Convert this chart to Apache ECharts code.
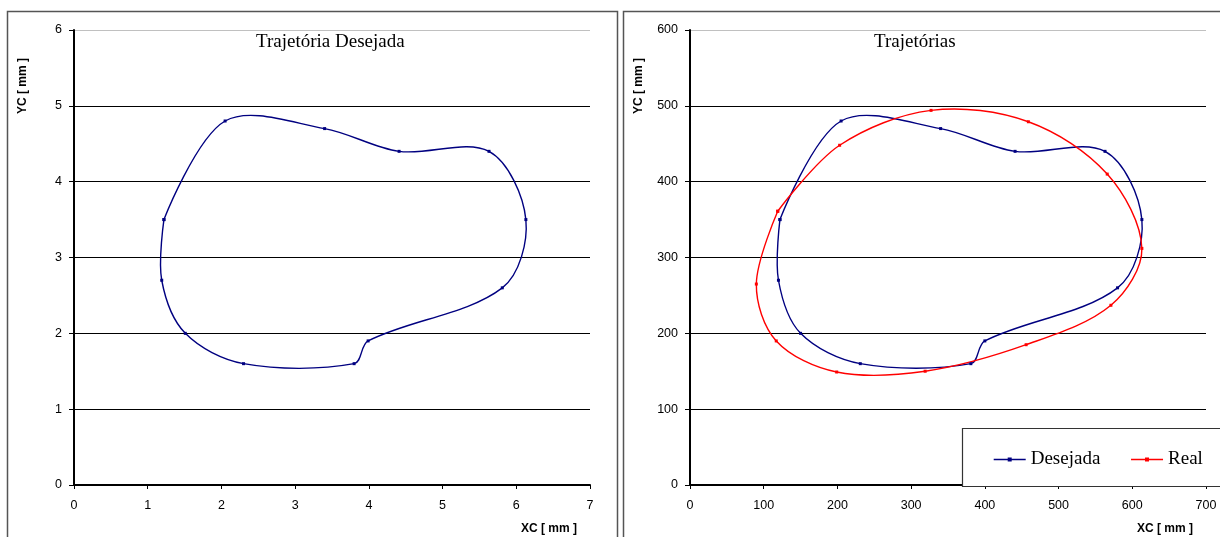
<!DOCTYPE html>
<html>
<head>
<meta charset="utf-8">
<script src="https://cdn.jsdelivr.net/npm/echarts@6/dist/echarts.min.js"></script>
<style>
  html, body { margin: 0; padding: 0; background: #fff; }
  #main { width: 1220px; height: 537px; }
</style>
</head>
<body>
<div id="main"></div>
<script>
// trajetória desejada [mm]
const desX = [1.22, 2.05, 3.40, 4.41, 5.63, 6.13, 5.81, 3.99, 3.80, 2.30, 1.51, 1.19, 1.22];
const desY = [3.5, 4.8, 4.7, 4.4, 4.4, 3.5, 2.6, 1.9, 1.6, 1.6, 2.0, 2.7, 3.5];
// trajetórias (escala x100)
const des2X = [122, 205, 340, 441, 563, 613, 580, 400, 381, 231, 150, 120, 122];
const des2Y = [350, 480, 470, 440, 440, 350, 260, 190, 160, 160, 200, 270, 350];
const realX = [119, 203, 327, 459, 566, 613, 571, 456, 319, 199, 117, 90, 119];
const realY = [361, 448, 494, 479, 410, 312, 237, 185, 150, 149, 190, 265, 361];

const titles = ['Trajetória Desejada', 'Trajetórias'];
const legendNames = ['Desejada', 'Real'];
const xName = 'XC [ mm ]';
const yName = 'YC [ mm ]';

const pairs = (xs, ys) => xs.map((x, i) => [x, ys[i]]);

const sans = 'Liberation Sans, Arial, sans-serif';
const serif = 'Liberation Serif, Times New Roman, serif';
const navy = '#000080';
const red = '#ff0000';
const smooth = 1 / 3;

function xAxis(gridIndex, max, interval) {
  return {
    type: 'value', gridIndex, min: 0, max, interval,
    axisLine: { show: true, onZero: false, lineStyle: { color: '#000', width: 2 } },
    axisTick: { show: true, length: 4, lineStyle: { color: '#000', width: 1 } },
    axisLabel: { color: '#000', fontFamily: sans, fontSize: 12.5, margin: 14 },
    splitLine: { show: false }
  };
}
function yAxis(gridIndex, max, interval) {
  return {
    type: 'value', gridIndex, min: 0, max, interval,
    axisLine: { show: true, onZero: false, lineStyle: { color: '#000', width: 2 } },
    axisTick: { show: true, length: 5, lineStyle: { color: '#000', width: 1 } },
    axisLabel: { color: '#000', fontFamily: sans, fontSize: 12.5, margin: 12 },
    splitLine: {
      show: true, showMinLine: false,
      lineStyle: { color: ['#000', '#000', '#000', '#000', '#000', '#c0c0c0'], width: 1 }
    }
  };
}
// curva suavizada (tipo Excel), um segmento bezier por ponto, sem restrição de overshoot
function curve(name, xs, ys, color, xi) {
  return {
    name, type: 'custom', xAxisIndex: xi, yAxisIndex: xi, z: 2, silent: true,
    data: pairs(xs, ys),
    encode: { x: 0, y: 1 },
    renderItem: (params, api) => {
      const i = params.dataIndex;
      const n = xs.length;
      if (i >= n - 1) return null;
      const p = k => {
        const j = Math.max(0, Math.min(n - 1, k));
        return api.coord([xs[j], ys[j]]);
      };
      const dist = (a, b) => Math.hypot(a[0] - b[0], a[1] - b[1]);
      const p0 = p(i - 1), p1 = p(i), p2 = p(i + 1), p3 = p(i + 2);
      // tangente em p1: (p2 - p0), ponderada pelo comprimento do segmento seguinte
      let r1 = 0, r2 = 0;
      const d01 = dist(p0, p1), d12 = dist(p1, p2), d23 = dist(p2, p3);
      if (i > 0) r1 = d12 / (d01 + d12);
      if (i + 2 <= n - 1) r2 = d12 / (d12 + d23);
      return {
        type: 'bezierCurve',
        shape: {
          x1: p1[0], y1: p1[1], x2: p2[0], y2: p2[1],
          cpx1: p1[0] + (p2[0] - p0[0]) * smooth * r1,
          cpy1: p1[1] + (p2[1] - p0[1]) * smooth * r1,
          cpx2: p2[0] - (p3[0] - p1[0]) * smooth * r2,
          cpy2: p2[1] - (p3[1] - p1[1]) * smooth * r2
        },
        style: { stroke: color, fill: null, lineWidth: 1.4 }
      };
    }
  };
}
// marcadores e legenda
function markers(name, xs, ys, color, xi) {
  return {
    name, type: 'line', xAxisIndex: xi, yAxisIndex: xi, z: 3,
    data: pairs(xs, ys),
    symbol: 'rect', symbolSize: 3, showSymbol: true,
    lineStyle: { color, width: 1.4, opacity: 0 }, itemStyle: { color },
    emphasis: { disabled: true }
  };
}
function frame(x) {
  return { type: 'rect', z: 0, silent: true,
    shape: { x, y: 11.5, width: 610, height: 540 },
    style: { fill: 'none', stroke: '#555', lineWidth: 1.5 } };
}
function label(text, x, y, rot) {
  return { type: 'text', z: 20, x, y, rotation: rot || 0, silent: true,
    style: { text, fill: '#000', font: 'bold 12px ' + sans, align: 'center', verticalAlign: 'middle' } };
}

const myChart = echarts.init(document.getElementById('main'));
const option = {
  animation: false,
  backgroundColor: '#fff',
  title: [
    { text: titles[0], left: 256, top: 33, padding: 0,
      textStyle: { fontFamily: serif, fontSize: 19, fontWeight: 'normal', color: '#000' } },
    { text: titles[1], left: 874, top: 33, padding: 0,
      textStyle: { fontFamily: serif, fontSize: 19, fontWeight: 'normal', color: '#000' } }
  ],
  grid: [
    { left: 74, top: 30, width: 516, height: 455 },
    { left: 690, top: 30, width: 516, height: 455 }
  ],
  xAxis: [xAxis(0, 7, 1), xAxis(1, 700, 100)],
  yAxis: [yAxis(0, 6, 1), yAxis(1, 600, 100)],
  legend: {
    data: legendNames, left: 993, top: 450, z: 30, padding: 0,
    itemWidth: 32, itemHeight: 5, itemGap: 30,
    lineStyle: { opacity: 1, width: 1.4 },
    textStyle: { fontFamily: serif, fontSize: 19, color: '#000' }
  },
  graphic: [
    frame(7.5), frame(623.5),
    { type: 'rect', z: 25, silent: true,
      shape: { x: 962.5, y: 428.5, width: 280, height: 58 },
      style: { fill: '#fff', stroke: '#333', lineWidth: 1.2 } },
    label(yName, 23, 86, Math.PI / 2), label(yName, 639, 86, Math.PI / 2),
    label(xName, 549, 529), label(xName, 1165, 529)
  ],
  series: [
    markers('Desejada', desX, desY, navy, 0),
    markers('Desejada', des2X, des2Y, navy, 1),
    markers('Real', realX, realY, red, 1),
    curve('Desejada', desX, desY, navy, 0),
    curve('Desejada', des2X, des2Y, navy, 1),
    curve('Real', realX, realY, red, 1)
  ]
};
option && myChart.setOption(option);
window.addEventListener('resize', () => { if (myChart) myChart.resize(); });
</script>
</body>
</html>
